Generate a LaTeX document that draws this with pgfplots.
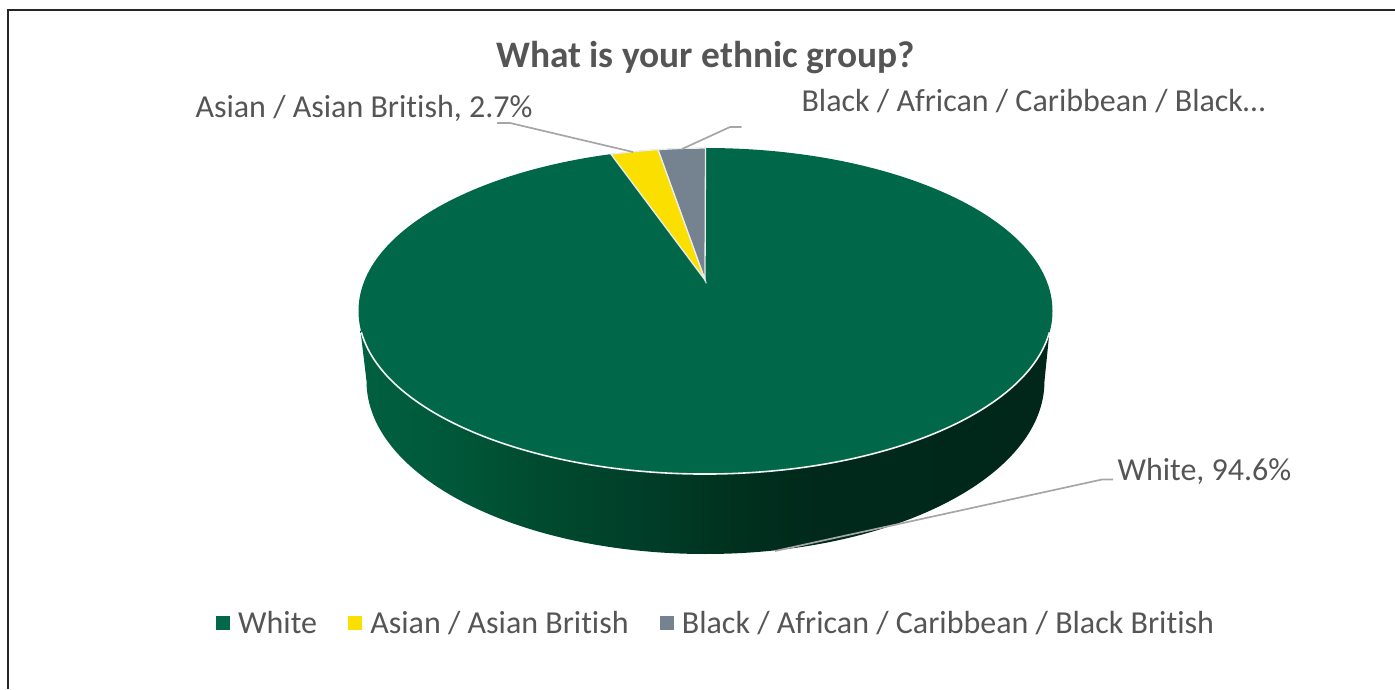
\documentclass[border=0pt]{standalone}
\usepackage{pgfplots}
\usepackage{pgfplotstable}
\usepackage{fontspec}
\setmainfont[Ligatures=NoCommon]{Carlito}
\pgfplotsset{compat=1.18}

\definecolor{piegreen}{HTML}{006848}
\definecolor{pieyellow}{HTML}{FBDF00}
\definecolor{piegrey}{HTML}{75828F}
\definecolor{inktext}{HTML}{555555}
\definecolor{leader}{HTML}{A6A6A6}
\definecolor{wallA}{HTML}{006040}
\definecolor{wallB}{HTML}{005A3B}
\definecolor{wallC}{HTML}{004B30}
\definecolor{wallD}{HTML}{003D28}
\definecolor{wallE}{HTML}{00311F}
\definecolor{wallF}{HTML}{00291B}
\definecolor{wallG}{HTML}{00271A}

% side wall of the disc, dark towards the right
\pgfdeclarehorizontalshading{discwall}{100bp}{
  color(0bp)=(wallA);
  color(25bp)=(wallA);
  color(30bp)=(wallB);
  color(38bp)=(wallC);
  color(46bp)=(wallD);
  color(52bp)=(wallE);
  color(58bp)=(wallF);
  color(75bp)=(wallG);
  color(100bp)=(wallG)}

% shares in percent
\pgfplotstableread[col sep=comma]{
group,share
White,94.6
Asian,2.7
Black,2.7
}\ethnicdata
\pgfplotstablegetelem{1}{share}\of\ethnicdata \let\shareasian\pgfplotsretval
\pgfplotstablegetelem{2}{share}\of\ethnicdata \let\shareblack\pgfplotsretval

% rim point lying a given percentage anticlockwise of twelve o'clock;
% the disc is seen in perspective, so the apex sits above the ellipse centre
\newcommand\rimpoint[3]{%
  \pgfmathsetmacro\thetaval{3.6*(#1)}%
  \pgfmathsetmacro\adotd{0.19*cos(\thetaval)}%
  \pgfmathsetmacro\tval{-\adotd+sqrt(\adotd*\adotd+1-0.0361)}%
  \pgfmathsetmacro#2{705.5-347*\tval*sin(\thetaval)}%
  \pgfmathsetmacro#3{378+163*(0.19+\tval*cos(\thetaval))}%
}

% slices derived from the shares
\rimpoint{0}\Xa\Ya
\rimpoint{\shareblack/2}\Xb\Yb
\rimpoint{\shareblack}\Xc\Yc
\rimpoint{\shareblack+\shareasian/2}\Xd\Yd
\rimpoint{\shareblack+\shareasian}\Xe\Ye

\begin{document}
\begin{tikzpicture}
\begin{axis}[
  x=1pt, y=1pt,
  scale only axis,
  xmin=0, xmax=1395, ymin=0, ymax=689,
  hide axis,
  clip=false,
  legend columns=3,
  legend cell align=left,
  legend style={
    at={(axis cs:216,66)}, anchor=west, draw=none, fill=none,
    font=\fontsize{32}{38}\selectfont\color{inktext},
    inner sep=0pt, outer sep=0pt,
    /tikz/every even column/.append style={column sep=29pt}
  },
  legend image code/.code={
    \fill[#1] (0pt,-6.5pt) rectangle (13pt,6.5pt);
    \path[draw=none] (0pt,0pt) -- (20pt,0pt);
  },
]
\path[use as bounding box] (axis cs:0,0) rectangle (axis cs:1395,689);

% chart frame
\draw[black!85, line width=1.4pt] (axis cs:8,0) -- (axis cs:8,679) -- (axis cs:1395,679);

% side wall
\shade[shading=discwall]
  (axis cs:360.4,359) arc[start angle=186.7, end angle=353.3, x radius=347pt, y radius=163pt]
  -- (axis cs:1044.5,308) arc[start angle=360, end angle=180, x radius=339pt, y radius=173pt]
  -- cycle;

% top face
\fill[piegreen] (axis cs:705.5,378) ellipse[x radius=347, y radius=163];
\draw[white!95!black, line width=1.6pt]
  (axis cs:361.4,356.7) arc[start angle=187.5, end angle=352.5, x radius=347pt, y radius=163pt];

\addplot[fill=piegrey, draw=white!85!piegrey, line width=1.3pt, forget plot]
  coordinates {(705,409) (\Xa,\Ya) (\Xb,\Yb) (\Xc,\Yc)} -- cycle;
\addplot[fill=pieyellow, draw=white!85!piegrey, line width=1.3pt, forget plot]
  coordinates {(705,409) (\Xc,\Yc) (\Xd,\Yd) (\Xe,\Ye)} -- cycle;

% legend entries
\addlegendimage{piegreen}\addlegendentry{White}
\addlegendimage{pieyellow}\addlegendentry{Asian / Asian British}
\addlegendimage{piegrey}\addlegendentry{Black / African / Caribbean / Black British}

% leader lines
\addplot[leader, line width=1.7pt, forget plot] coordinates {(497,566) (510,566) (633,537)};
\addplot[leader, line width=1.7pt, forget plot] coordinates {(741.7,562) (730,562) (682,540)};
\addplot[leader, line width=1.7pt, forget plot] coordinates {(1113,209.5) (1102,209.5) (775,138)};

% title and data labels
\node[anchor=center, text=inktext, font=\fontsize{37.4}{44}\selectfont\bfseries] at (axis cs:705.5,631) {What is your ethnic group?};
\node[anchor=west, text=inktext, font=\fontsize{32}{38}\selectfont] at (axis cs:192,581) {Asian / Asian British, 2.7\%};
\node[anchor=west, text=inktext, font=\fontsize{32}{38}\selectfont] at (axis cs:798,588) {Black / African / Caribbean / Black…};
\node[anchor=west, text=inktext, font=\fontsize{32}{38}\selectfont] at (axis cs:1114,218) {White, 94.6\%};
\end{axis}
\end{tikzpicture}
\end{document}
